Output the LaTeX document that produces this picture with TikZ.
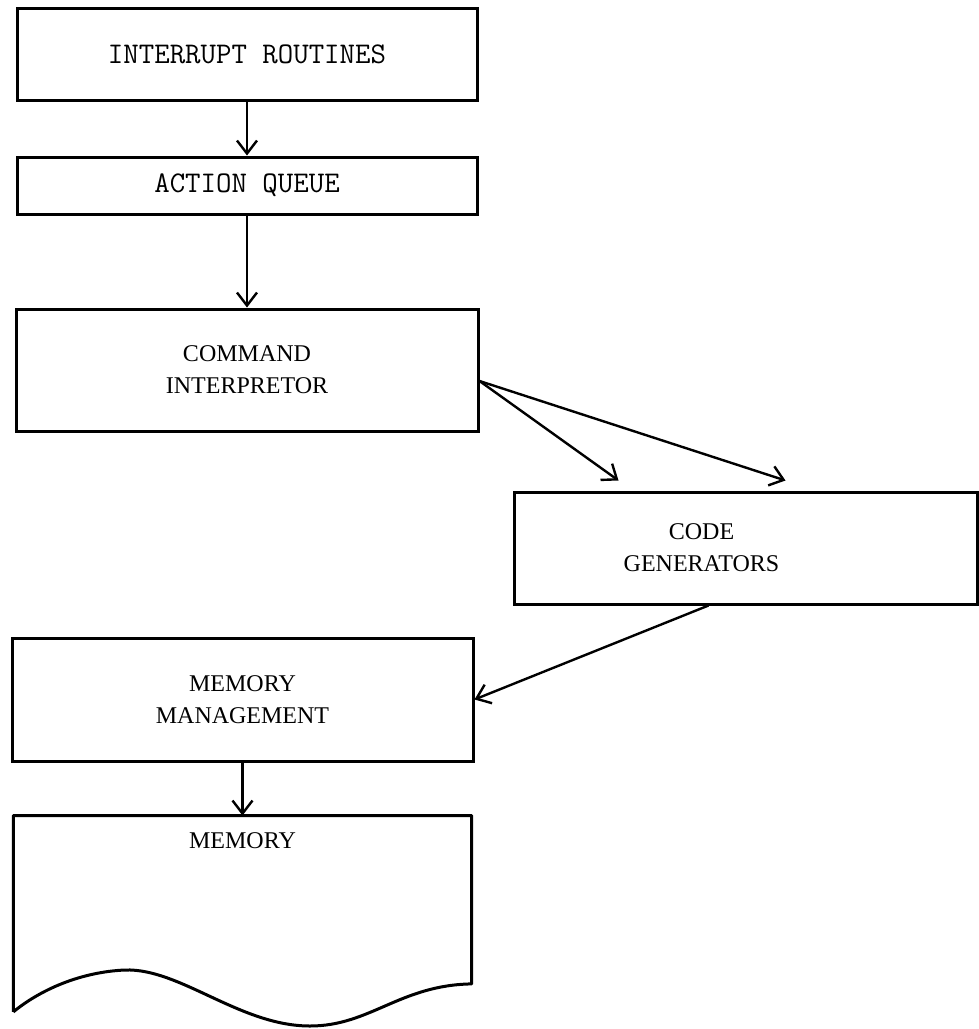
\documentclass[tikz,border=0pt]{standalone}
\usepackage{fontspec}
\setmainfont{Liberation Serif}
\usetikzlibrary{arrows.meta}
\usetikzlibrary{positioning}

\begin{document}
\begin{tikzpicture}[
  x=1pt, y=-1pt,
  block/.style={draw, line width=3pt, align=center, inner sep=0pt,
    font=\fontsize{24}{32}\selectfont},
  ttblock/.style={block, font=\fontsize{30}{34}\selectfont\ttfamily},
  flow/.style={-{Straight Barb[length=13pt,width=20pt]}, line width=2.4pt}
]

\useasboundingbox (0,0) rectangle (979,1029);

\node (irq) [ttblock, minimum width=460pt, minimum height=92pt] at (247,54) {INTERRUPT ROUTINES};

\node (aq) [ttblock, minimum width=460pt, minimum height=57pt, below=54pt of irq] {ACTION QUEUE};

\node (cmd) [block, minimum width=462pt, minimum height=122pt, below=92pt of aq] {COMMAND\\INTERPRETOR};

\node (gen) [block, minimum width=463pt, minimum height=112pt] at (745.5,548) {};
\node (gentext) [align=center, font=\fontsize{24}{32}\selectfont] at ([xshift=-44pt]gen.center) {CODE\\GENERATORS};

\node (mm) [block, minimum width=461pt, minimum height=123pt] at (242.5,699.5) {MEMORY\\MANAGEMENT};

\node (mem) [minimum width=458pt, minimum height=196pt, below=53pt of mm] {};
\node (memtext) [font=\fontsize{24}{32}\selectfont, below=14pt of mem.north] {MEMORY};

\draw [line width=3pt, line join=round]
  (mem.south west) -- (mem.north west) -- (mem.north east) -- ([yshift=28pt]mem.south east)
  .. controls (400,985) and (370,1026) .. (310,1026)
  .. controls (240,1026) and (180,968) .. (125,970)
  .. controls (80,972) and (40,990) .. (mem.south west);

\coordinate (cmdout) at ([yshift=-11pt]cmd.east);
\coordinate (genin1) at ([xshift=106pt,yshift=10pt]gen.north west);
\coordinate (genin2) at ([xshift=273pt,yshift=10pt]gen.north west);
\coordinate (genout) at ([xshift=-37pt]gen.south);

\draw [flow] (irq) -- (aq);
\draw [flow] (aq) -- (cmd);
\draw [flow] (cmdout) -- (genin1);
\draw [flow] (cmdout) -- (genin2);
\draw [flow] (genout) -- (mm.east);
\draw [flow] (mm) -- (mem.north);

\end{tikzpicture}
\end{document}
